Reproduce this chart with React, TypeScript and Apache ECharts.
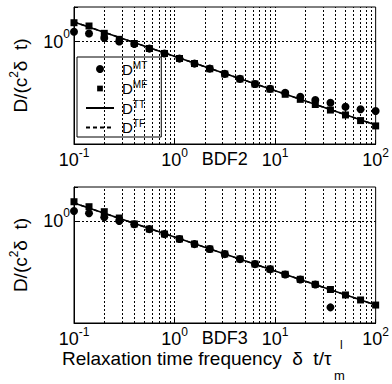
import React, { useEffect, useRef } from 'react';
import * as echarts from 'echarts';

const FONT = '"Liberation Sans", Arial, sans-serif';

// Relaxation time frequency (x values of the markers)
const freq = [0.1, 0.141, 0.2, 0.282, 0.398, 0.562, 0.794, 1.12, 1.58, 2.24, 3.16, 4.47, 6.31, 8.91, 12.6, 17.8, 25.1, 35.5, 50.1, 70.8, 100];

// BDF2 panel
const bdf2MT = [1.122, 1.099, 1.042, 1.0, 0.971, 0.92, 0.868, 0.818, 0.771, 0.727, 0.684, 0.645, 0.607, 0.574, 0.548, 0.523, 0.503, 0.487, 0.465, 0.451, 0.442];
const bdf2MF = [1.247, 1.2, 1.101, 1.026, 0.977, 0.921, 0.869, 0.819, 0.772, 0.726, 0.683, 0.644, 0.607, 0.572, 0.538, 0.507, 0.477, 0.447, 0.422, 0.395, 0.371];
const lineX = [0.1, 100];
const bdf2TT = [1.258, 0.375];
const bdf2TF = [1.258, 0.375];

// BDF3 panel
const bdf3MT: (number | null)[] = [1.129, 1.099, 1.048, 1.003, 0.966, 0.911, 0.859, 0.81, 0.763, 0.72, 0.678, 0.639, 0.602, 0.567, 0.533, 0.502, 0.473, 0.361, null, null, null];
const bdf3MF = [1.26, 1.188, 1.12, 1.039, 0.968, 0.912, 0.86, 0.811, 0.764, 0.72, 0.679, 0.64, 0.603, 0.568, 0.534, 0.503, 0.474, 0.446, 0.418, 0.394, 0.371];
const bdf3TT = [1.241, 0.371];
const bdf3TF = [1.241, 0.371];

// axis ranges and grid lines
const xRange = [0.1, 100];
const yRange = [0.3, 1.5];
const xGridLines = [0.2, 0.3, 0.4, 0.5, 0.6, 0.7, 0.8, 0.9, 1, 2, 3, 4, 5, 6, 7, 8, 9, 10, 20, 30, 40, 50, 60, 70, 80, 90];
const yGridLines = [1];
const panelNames = ['BDF2', 'BDF3'];
const legendNames = ['DMT', 'DMF', 'DTT', 'DTF'];

const pairs = (xs: number[], ys: (number | null)[]) =>
  xs.map((x, i) => [x, ys[i]]).filter((p) => p[1] !== null);

function powLabel(v: number) {
  const l = Math.log10(v);
  const e = Math.round(l);
  if (Math.abs(l - e) > 1e-6) return '';
  return `{b|10}{s|${e}}`;
}

const xLabelRich = {
  b: { fontSize: 18, lineHeight: 18, verticalAlign: 'bottom', fontFamily: FONT, color: '#000' },
  s: { fontSize: 12, verticalAlign: 'top', padding: [0, 0, 10, 0], fontFamily: FONT, color: '#000' },
};
const yLabelRich = {
  b: { fontSize: 18, lineHeight: 28, fontFamily: FONT, color: '#000' },
  s: { fontSize: 12, verticalAlign: 'top', fontFamily: FONT, color: '#000' },
};

export default function App() {
  const ref = useRef<HTMLDivElement>(null);
  useEffect(() => {
    if (!ref.current) return;
    const chart = echarts.init(ref.current, null, { renderer: 'svg' });
    const grids = [
      { left: 72, top: 7, width: 305, height: 137 },
      { left: 72, top: 187, width: 305, height: 136 },
    ];
    const xAxes = grids.map((_, i) => ({
      gridIndex: i,
      type: 'log',
      logBase: 10,
      min: xRange[0],
      max: xRange[1],
      axisLine: { show: true, lineStyle: { color: '#000', width: 1 } },
      axisTick: { show: true, inside: true, length: 4, lineStyle: { color: '#000' } },
      axisLabel: { formatter: powLabel, rich: xLabelRich, margin: 3 },
      splitLine: { show: false },
      name: panelNames[i],
      nameLocation: 'middle',
      nameGap: 6,
      nameMoveOverlap: false,
      nameTextStyle: { fontSize: 18, fontFamily: FONT, color: '#000', verticalAlign: 'top' },
    }));
    const yAxes = grids.map((_, i) => ({
      gridIndex: i,
      type: 'log',
      logBase: 10,
      min: yRange[0],
      max: yRange[1],
      axisLine: { show: true, lineStyle: { color: '#000', width: 1 } },
      axisTick: { show: true, inside: true, length: 4, lineStyle: { color: '#000' } },
      axisLabel: { formatter: powLabel, rich: yLabelRich, margin: 4 },
      splitLine: { show: false },
      name: '{b|D/(c}{s|2}{b|δ  t)}',
      nameLocation: 'middle',
      nameRotate: 90,
      nameGap: 42,
      nameMoveOverlap: false,
      nameTextStyle: {
        rich: {
          b: { fontSize: 19, fontFamily: FONT, color: '#000', lineHeight: 24 },
          s: { fontSize: 12, fontFamily: FONT, color: '#000', verticalAlign: 'top' },
        },
      },
    }));
    const gridMark = {
      silent: true,
      symbol: ['none', 'none'],
      label: { show: false },
      emphasis: { disabled: true },
      lineStyle: { type: [2, 2], color: '#000', width: 1 },
      data: [...xGridLines.map((v) => ({ xAxis: v })), ...yGridLines.map((v) => ({ yAxis: v }))],
    };
    const panels = [
      { mt: bdf2MT, mf: bdf2MF, tt: bdf2TT, tf: bdf2TF },
      { mt: bdf3MT, mf: bdf3MF, tt: bdf3TT, tf: bdf3TF },
    ];
    const series: any[] = [];
    panels.forEach((p, i) => {
      series.push({
        name: 'DTF', type: 'line', xAxisIndex: i, yAxisIndex: i,
        data: pairs(lineX, p.tf), symbol: 'none',
        lineStyle: { color: '#000', width: 1.5, type: [4, 3] },
        itemStyle: { color: '#000' },
        markLine: gridMark,
      });
      series.push({
        name: 'DTT', type: 'line', xAxisIndex: i, yAxisIndex: i,
        data: pairs(lineX, p.tt), symbol: 'none',
        lineStyle: { color: '#000', width: 1.5, type: 'solid' },
        itemStyle: { color: '#000' },
      });
      series.push({
        name: 'DMT', type: 'scatter', xAxisIndex: i, yAxisIndex: i,
        data: pairs(freq, p.mt), symbol: 'circle', symbolSize: 8,
        itemStyle: { color: '#000', opacity: 1 },
      });
      series.push({
        name: 'DMF', type: 'scatter', xAxisIndex: i, yAxisIndex: i,
        data: pairs(freq, p.mf), symbol: 'rect', symbolSize: 7,
        itemStyle: { color: '#000', opacity: 1 },
      });
    });
    chart.setOption({
      animation: false,
      backgroundColor: '#fff',
      grid: grids.map((g) => ({ ...g, show: true, borderColor: '#000', borderWidth: 1, backgroundColor: 'transparent' })),
      xAxis: xAxes,
      yAxis: yAxes,
      legend: {
        show: true,
        orient: 'vertical',
        left: 77,
        top: 57,
        padding: [3, 14, 2, 8],
        itemGap: 3,
        itemWidth: 28,
        itemHeight: 8,
        symbolKeepAspect: true,
        backgroundColor: '#fff',
        borderColor: '#000',
        borderWidth: 1,
        borderRadius: 0,
        data: [
          { name: legendNames[0], icon: 'circle' },
          { name: legendNames[1], icon: 'path://M-2 -2M0 0H10V10H0ZM12 12' },
          { name: legendNames[2], itemStyle: { opacity: 0 } },
          { name: legendNames[3], itemStyle: { opacity: 0 } },
        ],
        formatter: (n: string) => `{b|D}{s|${n.slice(1)}}`,
        textStyle: {
          rich: {
            b: { fontSize: 15, fontFamily: FONT, color: '#000', lineHeight: 18, padding: [0, 0, 0, 3] },
            s: { fontSize: 10, fontFamily: FONT, color: '#000', verticalAlign: 'top' },
          },
        },
      },
      graphic: [
        { type: 'text', x: 62, y: 349, style: { text: 'Relaxation time frequency  δ  t/τ', fontSize: 19, fontFamily: FONT, fill: '#000' } },
        { type: 'text', x: 340, y: 339, style: { text: 'l', fontSize: 12, fontFamily: FONT, fill: '#000' } },
        { type: 'text', x: 334, y: 369, style: { text: 'm', fontSize: 13, fontFamily: FONT, fill: '#000' } },
      ],
      series,
    });
    return () => chart.dispose();
  }, []);
  return <div ref={ref} style={{ position: 'fixed', left: 0, top: 0, width: 392, height: 384, background: '#fff' }} />;
}
